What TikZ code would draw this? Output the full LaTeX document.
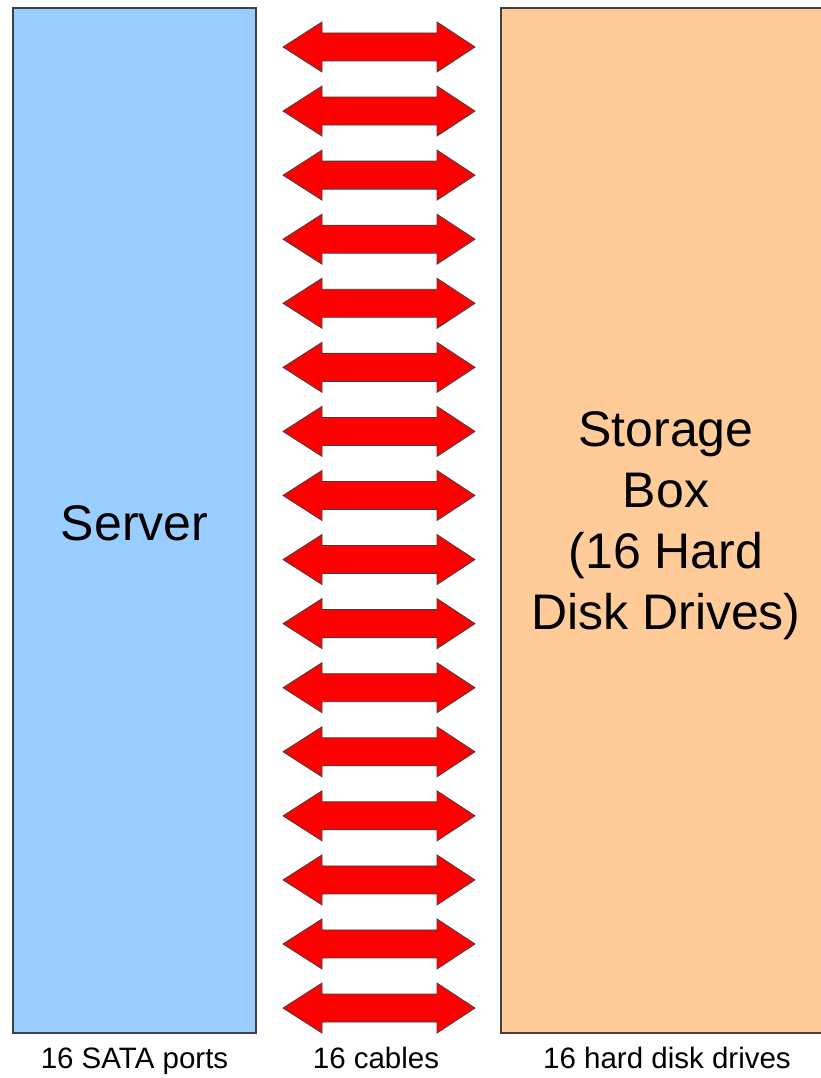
\documentclass[tikz,border=0pt]{standalone}
\usepackage{fontspec}
\setmainfont{Liberation Sans}
\definecolor{serverblue}{HTML}{99CCFF}
\definecolor{storeorange}{HTML}{FFCC99}
\definecolor{cablered}{HTML}{FF0000}
\definecolor{edgegray}{HTML}{404040}
\tikzset{
  boxshape/.style={draw=edgegray, line width=1.5pt},
  cable/.style={fill=cablered, draw=edgegray, line width=0.8pt, line join=miter},
  bigtext/.style={font=\fontsize{50}{61}\selectfont, align=center, inner sep=0pt},
  smalltext/.style={font=\fontsize{29.5}{35}\selectfont, inner sep=0pt, anchor=base},
}
\begin{document}
\begin{tikzpicture}[x=1pt, y=-1pt]
\useasboundingbox (0,0) rectangle (821,1078);
\fill[white] (0,0) rectangle (821,1078);
\begin{scope}
\clip (0,0) rectangle (821,1078);
\draw[boxshape, fill=serverblue] (13,8) rectangle (256,1033);
\draw[boxshape, fill=storeorange] (501,8) rectangle (830,1033);
\end{scope}
\node[bigtext, anchor=base] (server) at (134.5,540) {Server};
\node[bigtext] (storage) at (666,526) {Storage\\Box\\(16 Hard\\Disk Drives)};
\foreach \i in {0,...,15} {
  \pgfmathsetmacro{\cy}{47+64.07*\i}
  \draw[cable] (283,\cy) -- (322,\cy-25) -- (322,\cy-14) -- (437,\cy-14) -- (437,\cy-25)
     -- (475,\cy) -- (437,\cy+25) -- (437,\cy+14) -- (322,\cy+14) -- (322,\cy+25) -- cycle;
}
\node[smalltext] (ports) at (134.5,1068) {16 SATA ports};
\node[smalltext] (cables) at (376,1068) {16 cables};
\node[smalltext] (drives) at (667,1068) {16 hard disk drives};
\end{tikzpicture}
\end{document}
